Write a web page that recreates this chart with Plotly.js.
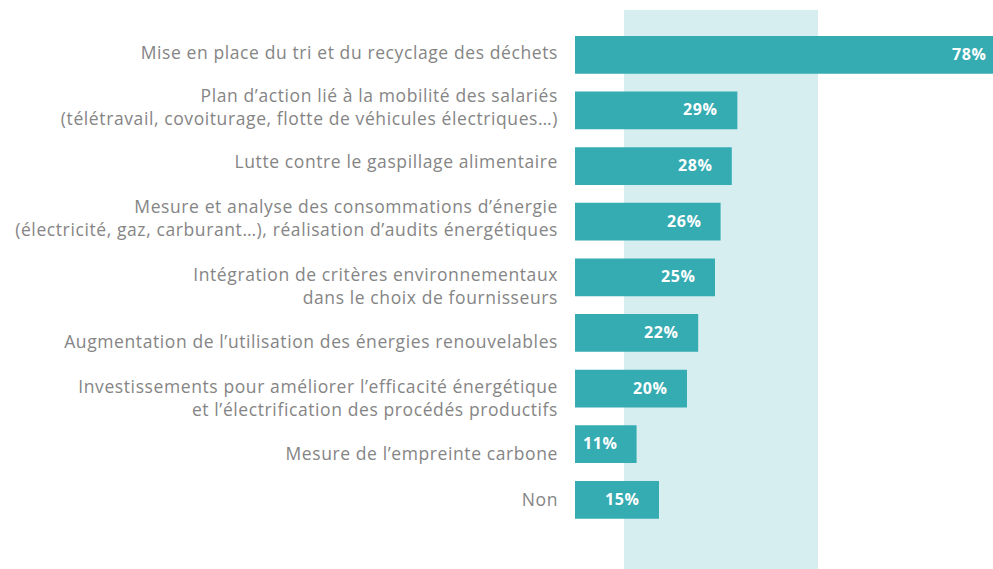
<!DOCTYPE html>
<html><head><meta charset="utf-8">
<script src="https://cdn.plot.ly/plotly-3.0.1.min.js"></script>
<style>
html,body{margin:0;padding:0;background:#fff}
#chart{width:993px;height:569px}
#chart .ytick text{letter-spacing:0.6px}
#chart .annotation-text{letter-spacing:0.6px}
</style>
</head><body><div id="chart"></div>
<script>
const categories = [
  "Mise en place du tri et du recyclage des déchets",
  "Plan d’action lié à la mobilité des salariés<br>(télétravail, covoiturage, flotte de véhicules électriques…)",
  "Lutte contre le gaspillage alimentaire",
  "Mesure et analyse des consommations d’énergie<br>(électricité, gaz, carburant…), réalisation d’audits énergétiques",
  "Intégration de critères environnementaux<br>dans le choix de fournisseurs",
  "Augmentation de l’utilisation des énergies renouvelables",
  "Investissements pour améliorer l’efficacité énergétique<br>et l’électrification des procédés productifs",
  "Mesure de l’empreinte carbone",
  "Non"
];
const values = [78, 29, 28, 26, 25, 22, 20, 11, 15];
const valueLabels = ["78%", "29%", "28%", "26%", "25%", "22%", "20%", "11%", "15%"];
const bandRange = [8.75, 43.4];

// layout-only: small vertical nudges (px) of the category labels, as in the reference
const labelNudgePx = [-2, -3, -4, -3, 9, 9, 10, 10, 0];

const XMAX = 74.65;
const barColor = "#35abb2";

const trace = {
  type: "bar", orientation: "h",
  x: values, y: categories,
  marker: {color: barColor},
  width: 0.678,
  hoverinfo: "none",
  textposition: "none"
};

const annotations = values.map((v, i) => ({
  x: Math.min(v, XMAX), y: categories[i], xref: "x", yref: "y",
  text: "<b>" + valueLabels[i] + "</b>",
  showarrow: false, xanchor: "right", yanchor: "middle",
  xshift: v > XMAX ? -5 : -18, yshift: 1,
  font: {family: "Open Sans, sans-serif", size: 16, color: "#ffffff"}
}));

const layout = {
  width: 993, height: 569,
  margin: {l: 575, r: 0, t: 10, b: 0, pad: 0},
  paper_bgcolor: "#ffffff", plot_bgcolor: "rgba(0,0,0,0)",
  showlegend: false,
  xaxis: {range: [0, XMAX], visible: false, fixedrange: true},
  yaxis: {
    type: "category", range: [9.243, -0.806],
    showgrid: false, zeroline: false, showline: false,
    ticks: "", ticklabelstandoff: 16,
    tickfont: {family: "Open Sans, sans-serif", size: 17.5, color: "#858585"}
  },
  shapes: [{
    type: "rect", xref: "x", yref: "paper",
    x0: bandRange[0], x1: bandRange[1], y0: 0, y1: 1,
    fillcolor: "#d6eef0", line: {width: 0}, layer: "below"
  }],
  annotations: annotations
};

Plotly.newPlot("chart", [trace], layout, {displayModeBar: false, staticPlot: true}).then(gd => {
  const texts = gd.querySelectorAll(".yaxislayer-above .ytick text");
  texts.forEach(t => {
    const label = t.textContent;
    let idx = -1;
    categories.forEach((c, i) => { if (c.replace("<br>", "") === label) idx = i; });
    if (idx < 0) return;
    const tr = t.getAttribute("transform") || "";
    t.setAttribute("transform", (tr + " translate(0," + labelNudgePx[idx] + ")").trim());
  });
});
</script></body></html>
